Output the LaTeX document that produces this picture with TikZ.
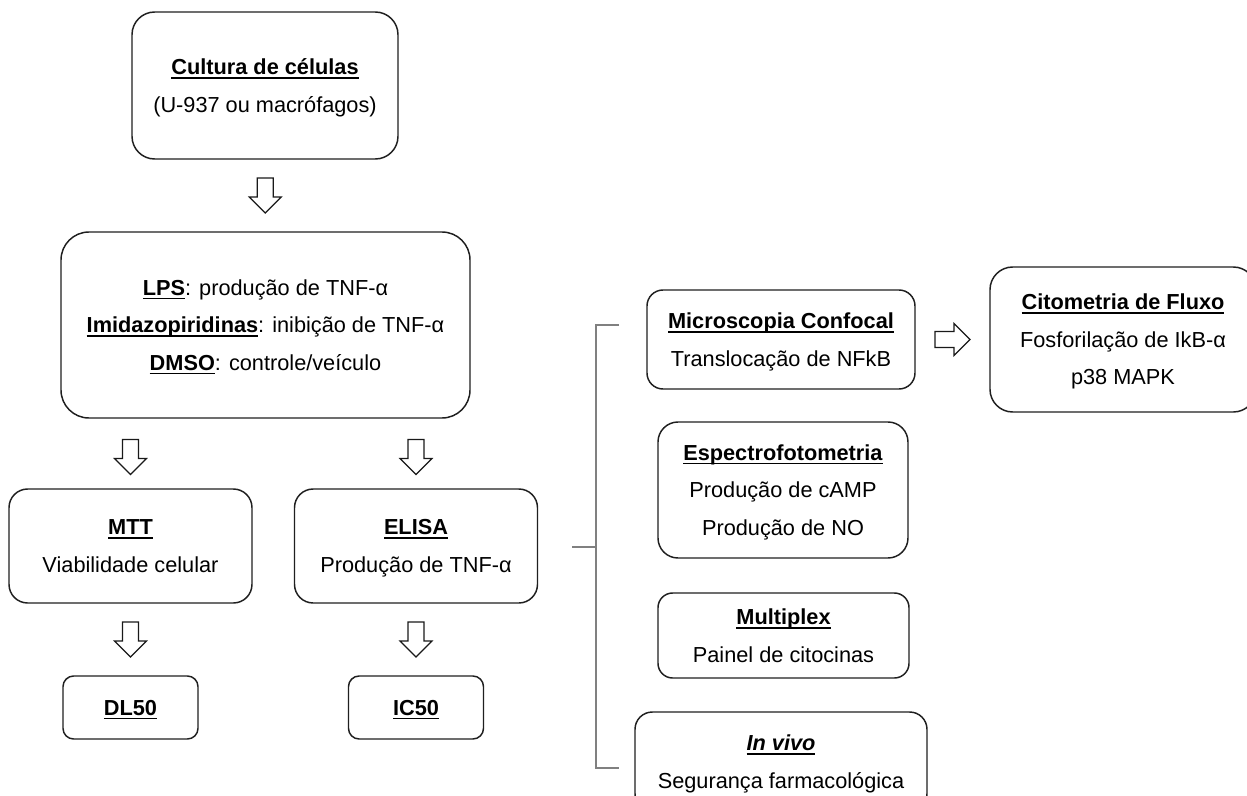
\documentclass[tikz,border=0pt]{standalone}
\usepackage{fontspec}
\setmainfont{Liberation Sans}
\usetikzlibrary{calc}
\newsavebox\ulbox
\newcommand{\ult}[1]{\sbox\ulbox{\textbf{#1}}\usebox\ulbox\llap{\rule[-3pt]{\wd\ulbox}{1.1pt}}}
\tikzset{
  box/.style={draw=black!88, line width=1.1pt, fill=white, align=center,
    font=\fontsize{16.3}{28.2}\selectfont, inner sep=0pt, text depth=0pt},
  harrow/.style={draw=black!90, line width=0.9pt, fill=white, line join=miter},
  bracket/.style={draw=black!50, line width=0.9pt},
  pics/downarrow/.style={code={\draw[harrow] (-8,-17.5) -- (8,-17.5) -- (8,1.5) -- (16,1.5) -- (0,17.5) -- (-16,1.5) -- (-8,1.5) -- cycle;}},
  pics/rightarrow/.style={code={\draw[harrow] (-17.5,-8) -- (1.5,-8) -- (1.5,-16) -- (17.5,0) -- (1.5,16) -- (1.5,8) -- (-17.5,8) -- cycle;}},
}
\begin{document}
\begin{tikzpicture}[x=0.75pt,y=-0.75pt]
\useasboundingbox (0,0) rectangle (1247,796);
\fill[white] (0,0) rectangle (1247,796);
\clip (0,0) rectangle (1247,796);

\node[box, minimum width=199.5pt, minimum height=110.25pt, rounded corners=17pt] (c1) at (265,85.5)
  {\ult{Cultura de células}\\(U-937 ou macrófagos)};
\node[box, minimum width=306.75pt, minimum height=139.5pt, rounded corners=21pt] (c2) at (265.5,325)
  {\ult{LPS}: produção de TNF-α\\\ult{Imidazopiridinas}: inibição de TNF-α\\\ult{DMSO}: controle/veículo};
\node[box, minimum width=182.25pt, minimum height=85.5pt, rounded corners=14pt] (mtt) at (130.5,546)
  {\ult{MTT}\\Viabilidade celular};
\node[box, minimum width=182.25pt, minimum height=85.5pt, rounded corners=14pt] (elisa) at (416,546)
  {\ult{ELISA}\\Produção de TNF-α};
\node[box, minimum width=101.25pt, minimum height=47.25pt, rounded corners=8pt] (dl50) at (130.5,707.5)
  {\ult{DL50}};
\node[box, minimum width=101.25pt, minimum height=47.25pt, rounded corners=8pt] (ic50) at (416,707.5)
  {\ult{IC50}};

\node[box, minimum width=201pt, minimum height=74.25pt, rounded corners=12pt] (micro) at (781,339.5)
  {\ult{Microscopia Confocal}\\Translocação de NFkB};
\node[box, minimum width=199.5pt, minimum height=108.75pt, rounded corners=17pt] (cito) at (1123,339.5)
  {\ult{Citometria de Fluxo}\\Fosforilação de IkB-α\\p38 MAPK};
\node[box, minimum width=187.5pt, minimum height=102pt, rounded corners=15pt] (espec) at (783,490)
  {\ult{Espectrofotometria}\\Produção de cAMP\\Produção de NO};
\node[box, minimum width=188.25pt, minimum height=63.75pt, rounded corners=11pt] (multi) at (783.5,635.5)
  {\ult{Multiplex}\\Painel de citocinas};
\node[box, minimum width=219pt, minimum height=74.25pt, rounded corners=13pt] (invivo) at (781,761.5)
  {\ult{\textit{In vivo}}\\Segurança farmacológica};

% hollow block arrows
\pic at ($(c1.south)!0.5!(c2.north)$) {downarrow};
\pic at ($(c2.south -| mtt.north)!0.55!(mtt.north)$) {downarrow};
\pic at ($(c2.south -| elisa.north)!0.55!(elisa.north)$) {downarrow};
\pic at ($(mtt.south)!0.5!(dl50.north)$) {downarrow};
\pic at ($(elisa.south)!0.5!(ic50.north)$) {downarrow};
\pic at ($(micro.east)!0.5!(cito.west)$) {rightarrow};

% bracket
\coordinate (bstub) at (572,547);
\coordinate (bmid) at (596,547);
\coordinate (btop) at (596,325);
\coordinate (bbot) at (596,768);
\coordinate (btopend) at (619,325);
\coordinate (bbotend) at (619,768);
\draw[bracket] (bstub) -- (bmid);
\draw[bracket] (btopend) -- (btop) -- (bbot) -- (bbotend);
\end{tikzpicture}
\end{document}
